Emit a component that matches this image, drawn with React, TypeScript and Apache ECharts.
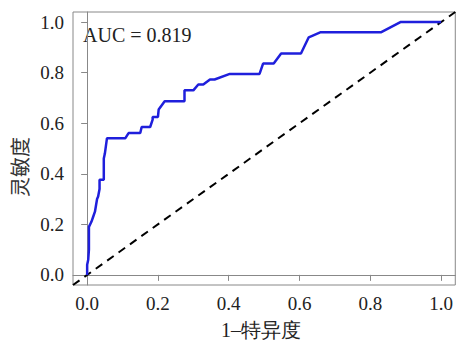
import React, { useEffect, useRef } from "react";
import * as echarts from "echarts";

const fpr = [0, 0, 0.003, 0.005, 0.005, 0.012, 0.017, 0.022, 0.028, 0.031, 0.035, 0.035, 0.047, 0.047, 0.05, 0.056, 0.108, 0.117, 0.15, 0.154, 0.178, 0.185, 0.185, 0.2, 0.202, 0.219, 0.275, 0.275, 0.3, 0.314, 0.328, 0.347, 0.36, 0.403, 0.487, 0.497, 0.527, 0.548, 0.604, 0.626, 0.66, 0.831, 0.885, 1.0];
const tpr = [0, 0.04, 0.06, 0.1, 0.19, 0.21, 0.23, 0.25, 0.3, 0.31, 0.34, 0.376, 0.376, 0.46, 0.48, 0.541, 0.541, 0.561, 0.561, 0.585, 0.585, 0.614, 0.625, 0.625, 0.654, 0.687, 0.687, 0.73, 0.73, 0.753, 0.753, 0.773, 0.773, 0.795, 0.795, 0.836, 0.836, 0.876, 0.876, 0.94, 0.96, 0.96, 1.0, 1.0];
const diagX = [-0.04, 1.04];
const diagY = [-0.04, 1.04];
const tickValues = [0, 0.2, 0.4, 0.6, 0.8, 1.0];
const aucText = "AUC = 0.819";
const xName = "1\u2013特异度";
const yName = "灵敏度";

const SERIF = "Liberation Serif";
const CJK = "Noto Sans CJK SC";

export default function App() {
  const ref = useRef<HTMLDivElement>(null);
  useEffect(() => {
    if (!ref.current) return;
    const chart = echarts.init(ref.current, null, { renderer: "svg" });
    const axisCommon = {
      type: "value" as const,
      min: -0.04,
      max: 1.04,
      splitLine: { show: false },
      axisLine: { show: true, lineStyle: { color: "#888", width: 1 } },
      axisTick: { show: true, length: 6, customValues: tickValues, lineStyle: { color: "#888", width: 1 } },
      axisLabel: {
        customValues: tickValues,
        formatter: (v: number) => v.toFixed(1),
        fontFamily: SERIF,
        fontSize: 19,
        color: "#222",
        margin: 9,
      },
    };
    chart.setOption({
      animation: false,
      grid: {
        left: 73,
        top: 12,
        width: 386,
        height: 273,
        show: true,
        borderColor: "#888",
        borderWidth: 1,
        backgroundColor: "transparent",
      },
      xAxis: { ...axisCommon },
      yAxis: { ...axisCommon },
      series: [
        {
          type: "line",
          data: diagX.map((x, i) => [x, diagY[i]]),
          showSymbol: false,
          symbol: "none",
          clip: true,
          lineStyle: { color: "#000", width: 2, type: [8, 6] },
          z: 2,
        },
        {
          type: "line",
          data: fpr.map((x, i) => [x, tpr[i]]),
          showSymbol: false,
          symbol: "none",
          clip: true,
          lineStyle: { color: "#1f1fdc", width: 2.5 },
          z: 3,
        },
      ],
      graphic: [
        {
          type: "text",
          x: 83,
          y: 35,
          style: { text: aucText, fontFamily: SERIF, fontSize: 20, fill: "#222", align: "left", verticalAlign: "middle" },
        },
        {
          type: "text",
          x: 261,
          y: 330,
          style: { text: xName, fontFamily: SERIF, fontSize: 20, fill: "#222", align: "center", verticalAlign: "middle" },
        },
        {
          type: "text",
          x: 19,
          y: 167,
          rotation: Math.PI / 2,
          style: { text: yName, fontFamily: CJK, fontSize: 20, fill: "#333", align: "center", verticalAlign: "middle" },
        },
      ],
    });
    return () => chart.dispose();
  }, []);
  return <div ref={ref} style={{ width: 456, height: 342, position: "absolute", left: 0, top: 0 }} />;
}
